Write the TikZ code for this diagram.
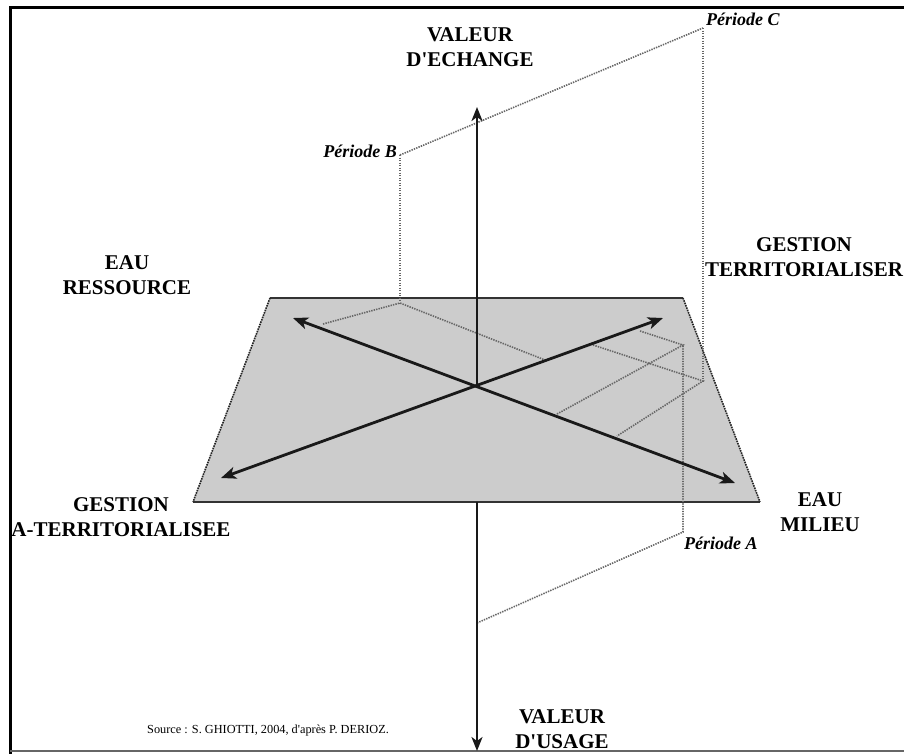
\documentclass[tikz,border=0pt]{standalone}
\usepackage{fontspec}
\setmainfont{Liberation Serif}
\usetikzlibrary{arrows.meta}
\begin{document}
\begin{tikzpicture}[x=1pt,y=-1pt,
  lab/.style={font=\bfseries\fontsize{21}{25}\selectfont, align=center, inner sep=0pt},
  per/.style={font=\bfseries\itshape\fontsize{18}{20}\selectfont, inner sep=0pt},
  src/.style={font=\fontsize{12.3}{14}\selectfont, inner sep=0pt},
  dotln/.style={draw=black!60, line width=1.6pt, dash pattern=on 1.4pt off 1.1pt},
  sideedge/.style={draw=black!85, line width=1.6pt, dash pattern=on 1.6pt off 0.9pt},
  solidedge/.style={draw=black!80, line width=2.2pt},
  plane/.style={fill=black!20},
  vaxis/.style={draw=black!90, line width=2.3pt, -{Stealth[length=14pt,width=11pt,inset=4pt]}},
  haxis/.style={draw=black!90, line width=2.8pt, {Stealth[length=15pt,width=12pt,inset=4pt]}-{Stealth[length=15pt,width=12pt,inset=4pt]}},
  frameln/.style={draw=black, line width=3pt},
  framebot/.style={draw=black!60, line width=1.5pt}
]
\useasboundingbox (0,0) rectangle (904,753);

% frame
\draw[frameln] (10,760) -- (10,7) -- (910,7);
\draw[framebot] (10,751) -- (910,751);

% key points
\coordinate (O) at (477,386);
\coordinate (Vtop) at (477,107);
\coordinate (Vbot) at (477,751);
\coordinate (Vplane) at (477,502);
\coordinate (TL) at (270,298);
\coordinate (TR) at (683,298);
\coordinate (BR) at (760,502);
\coordinate (BL) at (193,502);
\coordinate (R) at (293,318);
\coordinate (M) at (735,483);
\coordinate (GA) at (221,478);
\coordinate (GT) at (663,318);
\coordinate (B) at (400,155);
\coordinate (Bf) at (400,303);
\coordinate (Bl) at (323,324);
\coordinate (Br) at (545,360);
\coordinate (C) at (703,28);
\coordinate (Cf) at (703,381);
\coordinate (Cl) at (593,345);
\coordinate (Cd) at (617,436);
\coordinate (A) at (683,532);
\coordinate (Af) at (683,345);
\coordinate (Al) at (640,331);
\coordinate (Ad) at (557,414);
\coordinate (Av) at (477,623);

% plane
\fill[plane] (TL) -- (TR) -- (BR) -- (BL) -- cycle;
\draw[solidedge] (TL) -- (TR);
\draw[solidedge] (BL) -- (BR);
\draw[sideedge] (TR) -- (BR);
\draw[sideedge] (TL) -- (BL);

% dotted period lines
\draw[dotln] (B) -- (C);
\draw[dotln] (B) -- (Bf);
\draw[dotln] (Bl) -- (Bf) -- (Br);
\draw[dotln] (C) -- (Cf);
\draw[dotln] (Cl) -- (Cf) -- (Cd);
\draw[dotln] (Av) -- (A) -- (Af);
\draw[dotln] (Al) -- (Af) -- (Ad);

% axes
\draw[haxis] (R) -- (M);
\draw[haxis] (GA) -- (GT);
\draw[vaxis] (O) -- (Vtop);
\draw[vaxis] (Vplane) -- (Vbot);

% labels
\node[lab] (lve) at (470,47) {VALEUR\\D\textquotesingle ECHANGE};
\node[lab] (ler) at (127,275) {EAU\\RESSOURCE};
\node[lab] (lgt) at (804,257) {GESTION\\TERRITORIALISER};
\node[lab] (lga) at (121,517) {GESTION\\A-TERRITORIALISEE};
\node[lab] (lem) at (820,512) {EAU\\MILIEU};
\node[lab] (lvu) at (562,729) {VALEUR\\D\textquotesingle USAGE};

\node[per, anchor=east] (pb) at (397,151) {Période B};
\node[per, anchor=west] (pc) at (706,19) {Période C};
\node[per, anchor=west] (pa) at (684,543) {Période A};

\node[src, anchor=west] (src) at (147,731) {Source : S. GHIOTTI, 2004, d\textquotesingle après P. DERIOZ.};
\end{tikzpicture}
\end{document}
